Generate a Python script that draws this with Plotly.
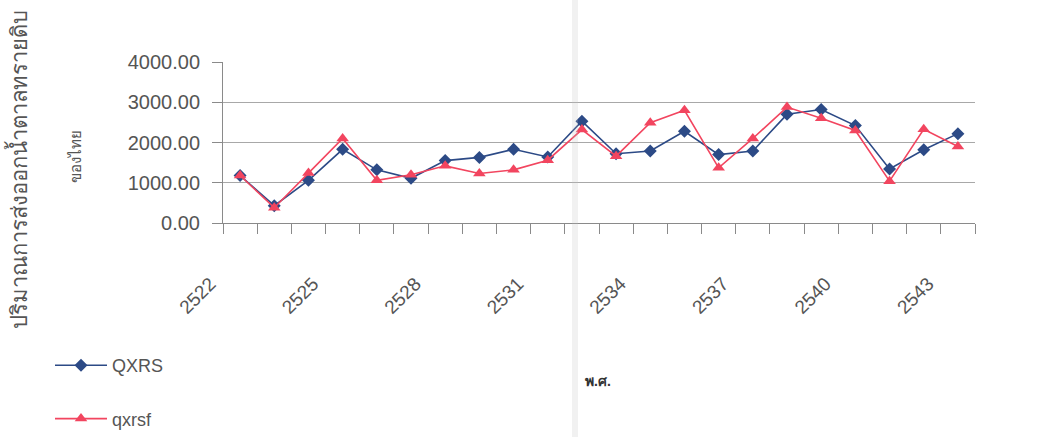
import plotly.graph_objects as go

# Thai raw sugar exports by Buddhist-era year: actual vs fitted
years = list(range(2522, 2544))
qxrs = [1180, 430, 1060, 1830, 1320, 1110, 1550, 1630, 1830, 1640, 2530,
        1720, 1790, 2280, 1700, 1790, 2700, 2820, 2420, 1340, 1820, 2220]
qxrsf = [1180, 380, 1240, 2100, 1060, 1200, 1420, 1230, 1320, 1560, 2320,
         1660, 2490, 2800, 1370, 2100, 2880, 2600, 2300, 1040, 2330, 1900]
label_years = [2522, 2525, 2528, 2531, 2534, 2537, 2540, 2543]
y_ticks = [0, 1000, 2000, 3000, 4000]

BLUE = "#2c4a86"
RED = "#f2455f"
GRID = "#a8a8a8"
AXIS = "#8a8a8a"
TXT = "#555555"
FONT = "Liberation Sans, Arial, sans-serif"

# pixel geometry: paper area, data area inside it
L0, L, R, T, B = 150, 223, 975, 62, 223
PW, PH = R - L0, B - T
X0, X1 = 2521.5, 2543.5
PX_PER_YEAR = (R - L) / (X1 - X0)
LABEL_SHIFT = 0.87  # year labels sit slightly left of their category
x2_lo = X0 + LABEL_SHIFT - (L - L0) / PX_PER_YEAR
x2_hi = X1 + LABEL_SHIFT

fig = go.Figure()
fig.add_trace(go.Scatter(
    x=years, y=qxrs, name="QXRS", mode="lines+markers",
    line=dict(color=BLUE, width=1.6),
    marker=dict(symbol="diamond", size=10, color=BLUE),
    legendgroup="a",
))
fig.add_trace(go.Scatter(
    x=years, y=qxrsf, name="qxrsf", mode="lines+markers",
    line=dict(color=RED, width=1.6),
    marker=dict(symbol="triangle-up", size=11, color=RED),
    legendgroup="b",
))
# carrier trace for the year-label axis
fig.add_trace(go.Scatter(
    x=label_years, y=[None] * len(label_years), xaxis="x2", yaxis="y2",
    showlegend=False, hoverinfo="skip", mode="markers",
))

fig.update_layout(
    width=1042, height=437,
    margin=dict(l=L0, r=1042 - R, t=T, b=437 - B, autoexpand=False),
    paper_bgcolor="white", plot_bgcolor="rgba(0,0,0,0)",
    font=dict(family=FONT, size=19, color=TXT),
    showlegend=True,
    legend=dict(
        xref="container", yref="container", x=50 / 1042, y=1 - 347 / 437,
        xanchor="left", yanchor="top", bgcolor="rgba(0,0,0,0)",
        font=dict(size=18, color=TXT), itemwidth=52,
        tracegroupgap=27, traceorder="grouped",
    ),
    xaxis=dict(
        type="linear", range=[X0, X1], automargin=False,
        domain=[(L - L0) / PW, 1],
        showline=True, linecolor=AXIS, linewidth=1,
        showgrid=False, zeroline=False, showticklabels=False, ticks="",
        minor=dict(ticks="outside", ticklen=10, tick0=X0, dtick=1,
                   tickcolor=AXIS, tickwidth=1, showgrid=False),
    ),
    xaxis2=dict(
        type="linear", range=[x2_lo, x2_hi], domain=[0, 1],
        anchor="y2", side="bottom", automargin=False,
        showline=False, showgrid=False, zeroline=False,
        tickmode="array", tickvals=label_years,
        ticktext=[str(y) for y in label_years],
        ticks="", tickangle=-45, ticklabelstandoff=45,
        tickfont=dict(size=19, color=TXT),
    ),
    yaxis=dict(
        range=[0, 4000], tickmode="array", tickvals=y_ticks,
        ticktext=[f"{v:.2f}" for v in y_ticks], automargin=False,
        showline=True, linecolor=AXIS, linewidth=1,
        showgrid=True, gridcolor=GRID, gridwidth=1, zeroline=False,
        ticks="outside", ticklen=10, tickcolor=AXIS,
        ticklabelstandoff=8, tickfont=dict(size=20, color=TXT),
    ),
    yaxis2=dict(
        domain=[0, 1], anchor="x2", range=[0, 1], visible=False,
        automargin=False,
    ),
)


def px(x):
    return (x - L0) / PW


def py(y):
    return (B - y) / PH


# Axis titles
fig.add_annotation(
    text="ปริมาณการส่งออกน้ำตาลทรายดิบ", textangle=-90,
    xref="paper", yref="paper", x=px(18), y=py(170),
    xanchor="center", yanchor="middle",
    showarrow=False, font=dict(size=22, color=TXT),
)
fig.add_annotation(
    text="ของไทย", textangle=-90,
    xref="paper", yref="paper", x=px(75), y=py(157),
    xanchor="center", yanchor="middle",
    showarrow=False, font=dict(size=15, color=TXT),
)
fig.add_annotation(
    text="<b>พ.ศ.</b>",
    xref="paper", yref="paper", x=px(598), y=py(381),
    xanchor="center", yanchor="middle",
    showarrow=False, font=dict(size=14, color="#333333"),
)

# Faint vertical fold line across the sheet
fig.add_shape(
    type="rect", xref="paper", yref="paper",
    x0=px(572), x1=px(578), y0=py(437), y1=py(0),
    line=dict(width=0), fillcolor="rgba(190,190,190,0.22)", layer="above",
)

fig.write_html("out.html")
